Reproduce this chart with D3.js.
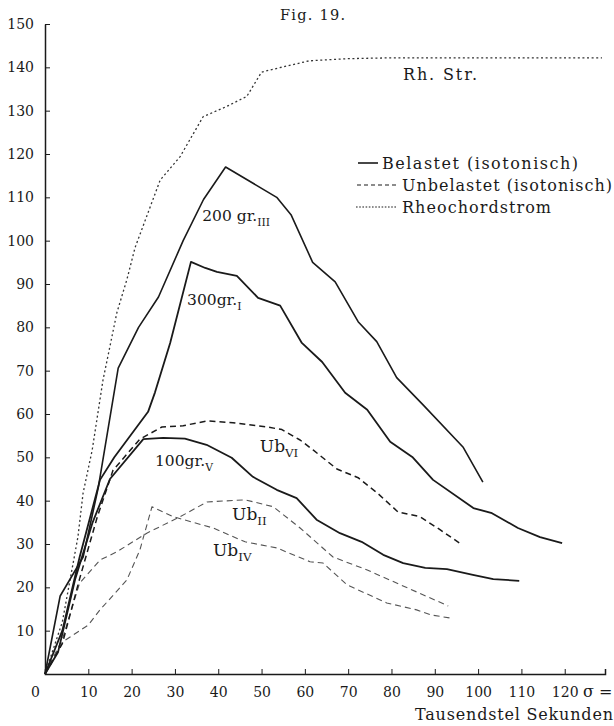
<!DOCTYPE html>
<html>
<head>
<meta charset="utf-8">
<script src="https://cdn.jsdelivr.net/npm/d3@7"></script>
<style>
  body { margin: 0; background: #fff; }
  text { font-family: "DejaVu Serif", "Liberation Serif", serif; fill: #1a1a1a; }
</style>
</head>
<body>
<svg id="chart" width="614" height="726"></svg>
<script>
// values: [ms, height]
var rheochord = [[0,0],[4,12],[7.6,31.6],[8.8,41.8],[10.9,51.7],[13.4,67.9],[16.6,83.4],[18.9,91],[20.8,98.4],[26.6,114],[31.2,119.4],[36.5,128.6],[42,131],[46.6,133.3],[50,138.9],[55.8,140.3],[61,141.5],[70,142],[80,142.2],[128.6,142.2]];
var bel200 = [[0,0],[3.5,18],[8.8,27],[12.3,43],[16.9,70.6],[21.6,80],[26.2,87],[31.9,100],[36.6,109.5],[41.7,117],[53.5,110],[56.8,106],[61.8,95],[67,90.5],[72.3,81.3],[76.6,76.7],[81.2,68.4],[87.3,62.1],[96.5,52.4],[101.1,44.3]];
var bel300 = [[0,0],[4,10],[8,27],[12.7,44.8],[16,50],[23.8,60.5],[25.4,65],[28.9,76.4],[33.7,95.1],[37,93.7],[39.7,92.8],[44.3,91.9],[49.2,86.8],[54.3,85],[59.3,76.4],[64,72],[69.3,64.9],[74.4,61],[79.7,53.6],[84.8,50.1],[89.6,44.8],[98.9,38.3],[103.2,37.1],[109.2,33.7],[114.3,31.6],[119.4,30.2]];
var bel100 = [[0,0],[3,5],[7,22],[11,35],[15,45],[22.7,54.2],[27.3,54.5],[32.3,54.3],[37.3,52.9],[43.1,49.9],[48,45.5],[53.5,42.5],[58.1,40.6],[62.7,35.6],[68.1,32.5],[73.1,30.5],[78.1,27.5],[82.7,25.6],[87.8,24.5],[92.8,24.2],[98.8,22.9],[103.5,21.9],[109.5,21.5]];
var ubVI = [[0,0],[4,7],[8,22],[12,36],[15.7,47],[21.9,54.2],[27,57],[31.9,57.3],[37.4,58.4],[43.4,58],[51.3,57],[54.7,56.4],[58.9,54],[61.9,51.7],[67.4,47.3],[72.3,45.3],[76.7,41.8],[81.5,37.4],[86.6,36.3],[91.2,33.3],[96.3,29.8]];
var ubII = [[0,0],[4,8],[8,21],[12.7,26.3],[16.6,28.2],[23.5,32.5],[31.2,36.3],[37.4,39.7],[46.2,40.2],[52.7,38.6],[58.9,33.7],[66.5,27],[74.4,24],[93.1,15.7]];
var ubIV = [[0,0],[4.2,7.5],[10,11.3],[12.7,14.8],[18.9,21.7],[21.9,28.6],[24.7,38.6],[29.6,36.3],[38.8,33.7],[46.2,30.5],[53.5,29.1],[61.2,25.9],[64.2,25.6],[69.7,20.6],[78.9,16.4],[85.8,14.8],[89.3,13.6],[93.7,12.9]];

var xTicks = [0,10,20,30,40,50,60,70,80,90,100,110,120];
var yTicks = [10,20,30,40,50,60,70,80,90,100,110,120,130,140,150];

var legendLabels = ["Belastet  (isotonisch)", "Unbelastet  (isotonisch)", "Rheochordstrom"];

var svg = d3.select("#chart");

var x = d3.scaleLinear().domain([0, 129.3]).range([45, 605]);
var y = d3.scaleLinear().domain([0, 150]).range([674, 24]);

var ink = "#1a1a1a";

// axes
var xAxis = svg.append("g")
  .attr("transform", "translate(0," + y(0) + ")")
  .call(d3.axisBottom(x).tickValues(xTicks).tickSizeInner(-5).tickSizeOuter(-5).tickPadding(13));
var yAxis = svg.append("g")
  .attr("transform", "translate(" + x(0) + ",0)")
  .call(d3.axisLeft(y).tickValues(yTicks).tickSizeInner(-5).tickSizeOuter(0).tickPadding(11));

[xAxis, yAxis].forEach(function(a) {
  a.select(".domain").attr("stroke", ink).attr("stroke-width", 1.5);
  a.selectAll(".tick line").attr("stroke", ink).attr("stroke-width", 1);
  a.selectAll("text").attr("font-size", 14).attr("font-family", "DejaVu Serif").attr("fill", ink);
});
// the 0 label sits left of the corner
xAxis.selectAll(".tick text").filter(function(d) { return d === 0; }).attr("dx", -10);
// sigma after 120
svg.append("text").attr("x", 583).attr("y", 697).attr("font-size", 16).text("σ =");
svg.append("text").attr("x", 415).attr("y", 720).attr("font-size", 16)
  .attr("textLength", 198).attr("lengthAdjust", "spacing").text("Tausendstel  Sekunden");

// title
svg.append("text").attr("x", 280).attr("y", 20).attr("font-size", 14.5)
  .attr("textLength", 65).attr("lengthAdjust", "spacing").text("Fig. 19.");

var line = d3.line().x(function(d) { return x(d[0]); }).y(function(d) { return y(d[1]); });

function drawCurve(data, width, dash, color) {
  svg.append("path")
    .datum(data)
    .attr("d", line)
    .attr("fill", "none")
    .attr("stroke", color || ink)
    .attr("stroke-width", width)
    .attr("stroke-linejoin", "round")
    .attr("stroke-dasharray", dash);
}

drawCurve(rheochord, 1.3, "2,2.6", "#333");
drawCurve(ubII, 1.1, "6,4", "#555");
drawCurve(ubIV, 1.1, "6,4", "#555");
drawCurve(ubVI, 1.5, "6,4");
drawCurve(bel100, 1.8, null);
drawCurve(bel300, 1.8, null);
drawCurve(bel200, 1.6, null);

// curve labels
function label(px, py, main, sub, size) {
  var t = svg.append("text").attr("x", px).attr("y", py).attr("font-size", size || 15.5);
  t.append("tspan").text(main);
  if (sub) t.append("tspan").attr("dy", 5).attr("font-size", (size || 15.5) * 0.7).text(sub);
}
label(x(36.3), y(104.5), "200 gr.", "III");
label(x(32.8), y(85.2), "300gr.", "I");
label(x(25.4), y(48.1), "100gr.", "V");
label(x(49.6), y(51.3), "Ub", "VI", 17);
label(x(43.2), y(35.6), "Ub", "II", 17);
label(x(38.8), y(27.3), "Ub", "IV", 17);
svg.append("text").attr("x", 403).attr("y", 80).attr("font-size", 16)
  .attr("textLength", 74).attr("lengthAdjust", "spacing").text("Rh. Str.");

// legend
var legendStyles = [
  { w: 1.6, dash: null, x1: 358, x2: 378, tx: 382, tw: 196, ly: 163 },
  { w: 1.2, dash: "4,3", x1: 357, x2: 398, tx: 402, tw: 210, ly: 185 },
  { w: 1.2, dash: "1.6,1.6", x1: 356, x2: 397, tx: 402, tw: 149, ly: 207 }
];
var lg = svg.append("g");
legendLabels.forEach(function(txt, i) {
  var s = legendStyles[i];
  lg.append("line").attr("x1", s.x1).attr("x2", s.x2).attr("y1", s.ly).attr("y2", s.ly)
    .attr("stroke", ink).attr("stroke-width", s.w).attr("stroke-dasharray", s.dash);
  lg.append("text").attr("x", s.tx).attr("y", s.ly + 5.5).attr("font-size", 16)
    .attr("textLength", s.tw).attr("lengthAdjust", "spacing").text(txt);
});
</script>
</body>
</html>
